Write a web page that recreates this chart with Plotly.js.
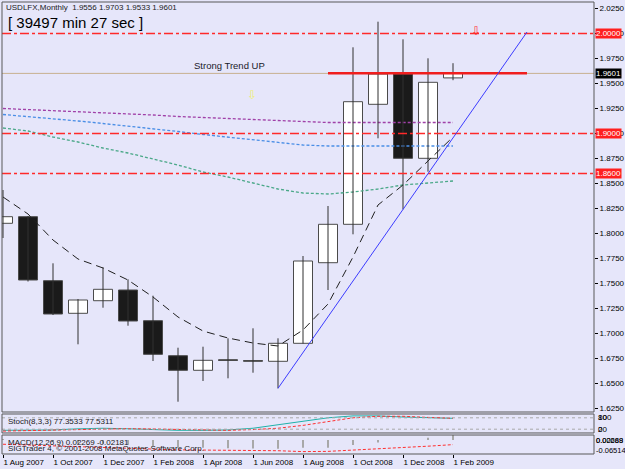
<!DOCTYPE html>
<html><head><meta charset="utf-8">
<script src="https://cdn.plot.ly/plotly-3.0.1.min.js"></script>
<style>html,body{margin:0;padding:0;background:#e6e6fa;} #chart{width:625px;height:469px;}</style>
</head><body><div id="chart"></div>
<script>
// ---- data (monthly bars, index 0 = Aug 2007 ... 18 = Feb 2009) ----
const barIdx = [0,1,2,3,4,5,6,7,8,9,10,11,12,13,14,15,16,17,18];
const openP  = [1.8102,1.8168,1.7528,1.7202,1.7328,1.7435,1.7128,1.6778,1.6632,1.6738,1.6730,1.6722,1.6902,1.7708,1.8092,1.9292,1.9595,1.8752,1.9556];
const highP  = [1.8435,1.8175,1.7702,1.7345,1.7662,1.7542,1.7378,1.6858,1.6868,1.6952,1.7052,1.6952,1.7775,1.8275,1.9862,2.0118,1.9942,1.9752,1.9703];
const lowP   = [1.7955,1.7520,1.7185,1.6892,1.7258,1.7078,1.6725,1.6318,1.6525,1.6552,1.6608,1.6452,1.6900,1.7435,1.7992,1.8952,1.8242,1.8618,1.9533];
const closeP = [1.8168,1.7535,1.7195,1.7335,1.7442,1.7125,1.6792,1.6632,1.6732,1.6730,1.6722,1.6902,1.7725,1.8092,1.9318,1.9595,1.8752,1.9512,1.9601];
const maBlack  = [1.8365,1.8195,1.7935,1.7745,1.7655,1.7535,1.7365,1.7165,1.7025,1.6955,1.6905,1.6875,1.7035,1.7295,1.7765,1.8285,1.8485,1.8725,1.8965];
const maPurple = [1.9250,1.9240,1.9225,1.9215,1.9205,1.9195,1.9185,1.9170,1.9160,1.9150,1.9140,1.9130,1.9120,1.9110,1.9110,1.9110,1.9110,1.9110,1.9110];
const maBlue   = [1.9190,1.9170,1.9145,1.9125,1.9100,1.9075,1.9050,1.9020,1.8990,1.8965,1.8935,1.8910,1.8885,1.8875,1.8875,1.8875,1.8875,1.8875,1.8875];
const maGreen  = [1.9055,1.9025,1.8965,1.8915,1.8855,1.8805,1.8745,1.8685,1.8615,1.8565,1.8505,1.8445,1.8405,1.8395,1.8415,1.8445,1.8485,1.8505,1.8525];
const stochK = [14,14,16,22,25,22,18,14,14,16,25,42,62,80,90,90,84,80,77.3533];
const stochD = [10,12,14,17,21,23,21,18,15,14,18,25,40,60,80,88,88,82,77.5311];
const stochLevels = [20,80];
const macdMain   = [0.004,-0.002,-0.010,-0.016,-0.018,-0.022,-0.028,-0.034,-0.036,-0.038,-0.040,-0.041,-0.036,-0.036,-0.024,-0.012,0.000,0.010,0.02269];
const macdSignal = [-0.020,-0.024,-0.028,-0.032,-0.036,-0.040,-0.043,-0.046,-0.047,-0.047,-0.048,-0.050,-0.054,-0.053,-0.047,-0.042,-0.036,-0.029,-0.02181];
const priceTicks = [1.625,1.65,1.675,1.7,1.725,1.75,1.775,1.8,1.825,1.85,1.875,1.9,1.925,1.95,1.975,2.0,2.025];
const monthTickIdx = [0,2,4,6,8,10,12,14,16,18];
const monthLabels = ['1 Aug 2007','1 Oct 2007','1 Dec 2007','1 Feb 2008','1 Apr 2008','1 Jun 2008','1 Aug 2008','1 Oct 2008','1 Dec 2008','1 Feb 2009'];
const hLevels = [2.0, 1.9, 1.86];
const bidPrice = 1.9601;
const resistLine = {x0: 13, x1: 20.96, y: 1.9602};
const trendLine = {x0: 11, y0: 1.6452, x1: 20.96, y1: 2.0015};
const symbol = 'USDLFX,Monthly';
const timerText = '[ 39497 min 27 sec ]';
const stochName = 'Stoch(8,3,3)';
const macdName = 'MACD(12,26,9)';
const copyText = 'SIGTrader 4, \u00a9 2001-2008 MetaQuotes Software Corp.';
const trendText = 'Strong Trend UP';
const trendTextPos = {x: 7.55, y: 1.9685};
const redArrowPos = {x: 18.92, y: 2.0025};
const yellowArrowPos = {x: 9.96, y: 1.9385};
const stochAxisLabels = [['100','80'],['20','0']];
const macdAxisLabels = [['0.00688','0.02269'],['-0.06514']];

// ---- build traces ----
const FONT = 'Liberation Sans, Arial, sans-serif';
const wx = [], wy = [];
barIdx.forEach((i, k) => { wx.push(i, i, null); wy.push(lowP[k], highP[k], null); });
const bodyBase = barIdx.map((i,k) => Math.min(openP[k], closeP[k]));
const bodyH = barIdx.map((i,k) => Math.abs(closeP[k] - openP[k]));
const bodyCol = barIdx.map((i,k) => closeP[k] >= openP[k] ? '#ffffff' : '#1a1a1a');

const traces = [
  {type:'scatter', mode:'lines', x: barIdx, y: maPurple, line:{color:'#a040a8', width:1.3, dash:'3px,2px'}, hoverinfo:'skip'},
  {type:'scatter', mode:'lines', x: barIdx, y: maBlue, line:{color:'#4a8ee6', width:1.3, dash:'3px,2px'}, hoverinfo:'skip'},
  {type:'scatter', mode:'lines', x: barIdx, y: maGreen, line:{color:'#4aa888', width:1.3, dash:'3px,2px'}, hoverinfo:'skip'},
  {type:'scatter', mode:'lines', x: barIdx, y: maBlack, line:{color:'#202020', width:1, dash:'8px,5px'}, hoverinfo:'skip'},
  {type:'scatter', mode:'lines', x: wx, y: wy, line:{color:'#303030', width:1}, hoverinfo:'skip'},
  {type:'bar', x: barIdx, y: bodyH, base: bodyBase, width: 0.76,
   marker:{color: bodyCol, line:{color:'#4a4a4a', width:1}}, hoverinfo:'skip'},
  {type:'scatter', mode:'lines', x: barIdx, y: stochK, xaxis:'x', yaxis:'y2', line:{color:'#20b2aa', width:1}, hoverinfo:'skip'},
  {type:'scatter', mode:'lines', x: barIdx, y: stochD, xaxis:'x', yaxis:'y2', line:{color:'#ff3030', width:1, dash:'3px,2px'}, hoverinfo:'skip'},
  {type:'bar', x: barIdx, y: macdMain, xaxis:'x', yaxis:'y3', width: 0.08, marker:{color:'#a8a8a8'}, hoverinfo:'skip'},
  {type:'scatter', mode:'lines', x: barIdx, y: macdSignal, xaxis:'x', yaxis:'y3', line:{color:'#ff3030', width:1, dash:'3px,2px'}, hoverinfo:'skip'}
];

// ---- shapes ----
const shapes = [];
hLevels.forEach(v => shapes.push({type:'line', xref:'paper', yref:'y', x0:0, x1:1, y0:v, y1:v,
  line:{color:'#ff2a2a', width:1.4, dash:'dashdot'}}));
shapes.push({type:'line', xref:'paper', yref:'y', x0:0, x1:1, y0:bidPrice, y1:bidPrice, line:{color:'#c8b090', width:1}});
shapes.push({type:'line', xref:'x', yref:'y', x0:resistLine.x0, x1:resistLine.x1, y0:resistLine.y, y1:resistLine.y, line:{color:'#f01e1e', width:2.5}});
shapes.push({type:'line', xref:'x', yref:'y', x0:trendLine.x0, y0:trendLine.y0, x1:trendLine.x1, y1:trendLine.y1, line:{color:'#3c3cff', width:1}});
stochLevels.forEach(v => shapes.push({type:'line', xref:'paper', yref:'y2', x0:0, x1:1, y0:v, y1:v, line:{color:'#a8a8a8', width:1, dash:'3px,3px'}}));
['y','y2','y3'].forEach(a => shapes.push({type:'rect', xref:'paper', yref:a+' domain', x0:0, x1:1, y0:0, y1:1,
  line:{color:'#585858', width:1}, fillcolor:'rgba(0,0,0,0)'}));

// ---- annotations ----
const f4 = v => v.toFixed(4);
const L = 18;
const ann = [];
const txt = (text, x, y, size, color, xref, yref, xanchor, extra) => ann.push(Object.assign({text, x, y, xref, yref,
  xanchor: xanchor || 'left', yanchor:'middle', showarrow:false, font:{family:FONT, size, color}}, extra || {}));
txt(`${symbol}  ${f4(openP[L])} ${f4(highP[L])} ${f4(lowP[L])} ${f4(closeP[L])}`, 0.004, 0.9878, 8, '#1a1a1a', 'paper', 'paper');
txt(timerText, 0.0075, 0.9546, 15, '#000000', 'paper', 'paper');
txt(trendText, trendTextPos.x, trendTextPos.y, 9.5, '#1a1a2a', 'x', 'y');
txt('\u21e9', redArrowPos.x, redArrowPos.y, 12, '#ff3030', 'x', 'y', 'center');
txt('\u21e9', yellowArrowPos.x, yellowArrowPos.y, 12, '#f0f070', 'x', 'y', 'center');
txt(`${stochName} ${f4(stochK[L])} ${f4(stochD[L])}`, 0.0068, 0.0730, 8, '#1a1a1a', 'paper', 'paper');
txt(`${macdName} ${macdMain[L].toFixed(5)} ${macdSignal[L].toFixed(5)}`, 0.0068, 0.0259, 8, '#1a1a1a', 'paper', 'paper');
txt(copyText, 0.0068, 0.0117, 8, '#1a1a1a', 'paper', 'paper');
hLevels.forEach(v => txt(f4(v), 1, v, 8, '#ffffff', 'paper', 'y', 'left', {xshift:1, bgcolor:'#ff2020', borderpad:0}));
txt(f4(bidPrice), 1, bidPrice, 8, '#ffffff', 'paper', 'y', 'left', {xshift:1, bgcolor:'#000000', borderpad:0});
stochAxisLabels[0].forEach(t => txt(t, 1, 0.0808, 8, '#000', 'paper', 'paper', 'left', {xshift:2}));
stochAxisLabels[1].forEach(t => txt(t, 1, 0.0546, 8, '#000', 'paper', 'paper', 'left', {xshift:2}));
macdAxisLabels[0].forEach(t => txt(t, 1, 0.0294, 7.5, '#000', 'paper', 'paper', 'left', {xshift:0}));
macdAxisLabels[1].forEach(t => txt(t, 1, 0.0088, 7.5, '#000', 'paper', 'paper', 'left', {xshift:0}));

const layout = {
  width: 625, height: 469,
  margin: {l:2, r:31, t:2, b:15, pad:0},
  paper_bgcolor:'#e6e6fa', plot_bgcolor:'#e6e6fa',
  showlegend:false, barmode:'overlay',
  font:{family:FONT, size:8, color:'#000'},
  xaxis:{domain:[0,1], range:[-0.04, 23.64], anchor:'y3', tickvals: monthTickIdx, ticktext: monthLabels,
    ticks:'outside', ticklen:3, tickcolor:'#000', tickangle:0, ticklabelposition:'outside right',
    tickfont:{family:FONT, size:8, color:'#000'}, showgrid:false, zeroline:false, showline:false, automargin:false},
  yaxis:{domain:[0.0929,1], range:[1.6215, 2.0315], side:'right', anchor:'x', tickvals: priceTicks, tickformat:'.4f',
    ticks:'outside', ticklen:3, tickcolor:'#000', tickfont:{family:FONT, size:8, color:'#000'},
    showgrid:false, zeroline:false, showline:false, automargin:false},
  yaxis2:{domain:[0.0465,0.0885], range:[0,100], side:'right', anchor:'x', showticklabels:false, ticks:'',
    showgrid:false, zeroline:false},
  yaxis3:{domain:[0,0.042], range:[-0.06514, 0.02269], side:'right', anchor:'x', showticklabels:false, ticks:'',
    showgrid:false, zeroline:false},
  shapes: shapes,
  annotations: ann
};
Plotly.newPlot('chart', traces, layout, {staticPlot:true, displayModeBar:false});
</script>
</body></html>
